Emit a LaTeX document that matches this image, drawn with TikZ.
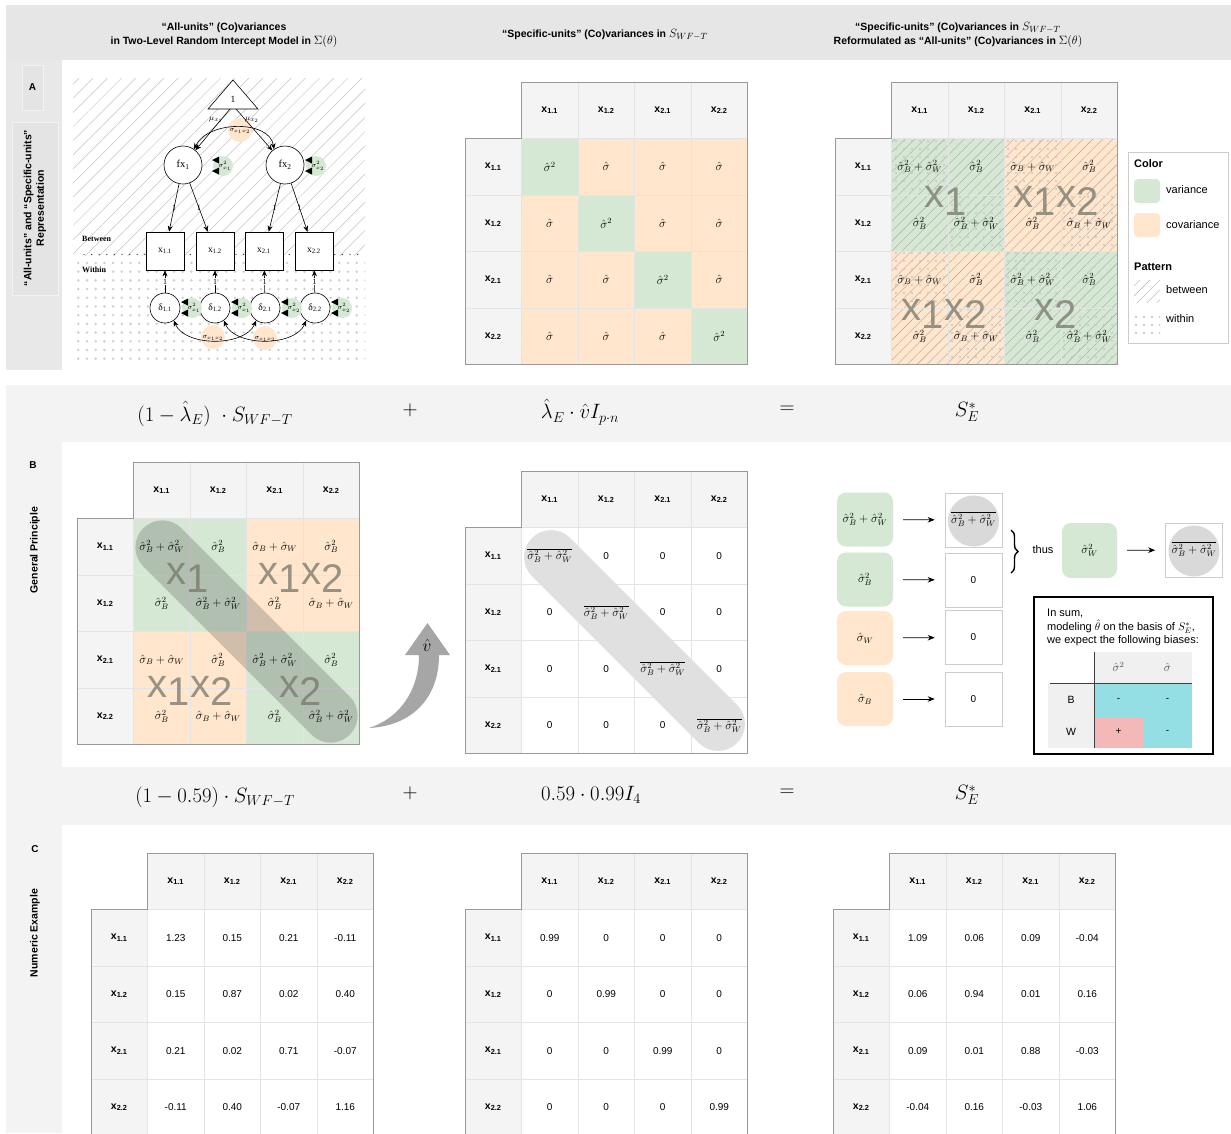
\documentclass[tikz,border=0pt]{standalone}
\usepackage[no-math]{fontspec}
\setmainfont{Liberation Sans}
\newfontfamily\semfont{Liberation Serif}
\usetikzlibrary{patterns.meta,arrows.meta,decorations.pathreplacing}
\definecolor{bandA}{HTML}{E6E6E6}
\definecolor{bandL}{HTML}{F3F3F3}
\definecolor{colA}{HTML}{E8E8E8}
\definecolor{hdrc}{HTML}{F4F4F4}
\definecolor{gridc}{HTML}{E4E4E4}
\definecolor{borderc}{HTML}{999999}
\definecolor{varc}{HTML}{D5E8D4}
\definecolor{covc}{HTML}{FFE6CC}
\definecolor{bigx}{HTML}{77776B}
\definecolor{cyanc}{HTML}{93DFE4}
\definecolor{pinkc}{HTML}{F4B8B8}
\definecolor{blobc}{HTML}{D9D9D9}
\definecolor{capc}{HTML}{E0E0E0}
\definecolor{hatchc}{HTML}{C4C4C4}
\definecolor{dotc}{HTML}{D0D0D0}
\definecolor{boxline}{HTML}{CCCCCC}
\definecolor{tabhdr}{HTML}{F0F0F0}
\definecolor{arrowg}{HTML}{A6A6A6}
\definecolor{subbox}{HTML}{E4E4E4}

\newcommand{\matV}{$\hat\sigma^2_B+\hat\sigma^2_W$}
\newcommand{\matb}{$\hat\sigma^2_B$}
\newcommand{\matc}{$\hat\sigma_B+\hat\sigma_W$}
\newcommand{\ovsum}{$\overline{\hat\sigma^2_B+\hat\sigma^2_W}$}
\newcommand{\bxsub}[1]{\raisebox{-0.22em}{#1}}
\newcommand{\mcell}[5]{\fill[#5] ({#1+#4*56.5},{#2+#3*56.5}) rectangle ++(56.5,56.5);}
\newcommand{\covframe}[3]{%
  \begin{scope}[shift={(#2,#3)}]
    \fill[hdrc] (56.5,0) rectangle (282.5,56.5);
    \fill[hdrc] (0,56.5) rectangle (56.5,282.5);
    \foreach \k in {1,2,3,4}{%
      \draw[gridc,line width=0.5pt] ({\k*56.5},0) -- ({\k*56.5},282.5);
      \draw[gridc,line width=0.5pt] (0,{\k*56.5}) -- (282.5,{\k*56.5});}
    \draw[borderc,line width=0.8pt] (56.5,0) -- (282.5,0) -- (282.5,282.5) -- (0,282.5) -- (0,56.5) -- (56.5,56.5) -- cycle;
    \foreach \lab [count=\k] in {1.1,1.2,2.1,2.2}{%
      \node[hdrlabel] (#1-c\k) at ({(\k+0.5)*56.5},28.25) {x\textsubscript{\lab}};
      \node[hdrlabel] (#1-r\k) at (28.25,{(\k+0.5)*56.5}) {x\textsubscript{\lab}};}
    \foreach \i in {1,2,3,4}{\foreach \j in {1,2,3,4}{%
      \coordinate (#1-\i-\j) at ({(\j+0.5)*56.5},{(\i+0.5)*56.5});}}
  \end{scope}}
\newcommand{\varbub}[4]{%
  \fill[varc] (#2,#3) circle[radius=10];
  \fill ({#2-11},{#3-6}) -- ({#2-4},{#3-9.5}) -- ({#2-4},{#3-2.5}) -- cycle;
  \fill ({#2-11},{#3+5}) -- ({#2-4},{#3+1.5}) -- ({#2-4},{#3+8.5}) -- cycle;
  \node[semsmall] (#1) at ({#2+2},{#3}) {#4};}

\tikzset{
  hdrlabel/.style={font=\fontsize{10.5}{11}\selectfont\bfseries, inner sep=0pt},
  celltxt/.style={font=\fontsize{11.5}{13}\selectfont, inner sep=0pt},
  numtxt/.style={font=\fontsize{10}{11}\selectfont, inner sep=0pt},
  bigxl/.style={font=\fontsize{40}{40}\selectfont, text=bigx, text opacity=0.75, inner sep=0pt},
  coltitle/.style={font=\fontsize{10.5}{14}\selectfont\bfseries, align=center, inner sep=0pt},
  sidelabel/.style={font=\fontsize{10.5}{12.5}\selectfont\bfseries, align=center, rotate=90, inner sep=0pt},
  panelletter/.style={font=\fontsize{10}{11}\selectfont\bfseries, inner sep=0pt},
  eqtxt/.style={font=\fontsize{22}{26}\selectfont, inner sep=0pt},
  semnode/.style={font=\semfont\fontsize{10.5}{11}\selectfont, draw, line width=0.6pt, fill=white, inner sep=0pt},
  semsmall/.style={font=\fontsize{7.5}{8}\selectfont, inner sep=0pt},
  semlab/.style={font=\semfont\fontsize{8}{8}\selectfont, inner sep=0.4pt},
  semarr/.style={-{Stealth[length=6pt,width=5pt]}, line width=0.6pt},
  semdbl/.style={{Stealth[length=6pt,width=5pt]}-{Stealth[length=6pt,width=5pt]}, line width=0.6pt},
  blk/.style={-{Stealth[length=7pt,width=5.5pt]}, line width=0.7pt, shorten <=10pt, shorten >=10pt},
  softbox/.style={rounded corners=9pt, minimum width=56pt, minimum height=54pt, inner sep=0pt, font=\fontsize{11.5}{13}\selectfont},
  whitebox/.style={draw=boxline, line width=0.6pt, fill=white, minimum width=57pt, minimum height=54pt, inner sep=0pt, font=\fontsize{10}{11}\selectfont},
  hatchfill/.style={pattern={Lines[angle=45,distance=7pt,line width=0.4pt]}, pattern color=#1},
  dotfill/.style={pattern={Dots[distance=8pt,radius=1.1pt]}, pattern color=#1},
  captxt/.style={font=\fontsize{11}{12}\selectfont, inner sep=0pt, anchor=west},
}

\begin{document}
\begin{tikzpicture}[x=1pt,y=-1pt]
\useasboundingbox (0,0) rectangle (1231,1133);
% ---------- backgrounds ----------
\fill[white] (0,0) rectangle (1231,1133);
\fill[bandA] (6,5) rectangle (1231,60);
\fill[colA] (6,60) rectangle (62,370);
\fill[bandL] (6,385) rectangle (1231,1133);
\fill[white] (62,442) rectangle (1231,767);
\fill[white] (62,825) rectangle (1231,1133);
\fill[subbox, draw=black!5] (22,65) rectangle (43,110);
\fill[subbox, draw=black!5] (12,122) rectangle (58,295);

% ---------- column titles ----------
\node[coltitle] (t1) at (224,35) {“All-units” (Co)variances\\in Two-Level Random Intercept Model in {\fontsize{13}{13}\selectfont$\Sigma(\theta)$}};
\node[coltitle] (t2) at (605,35) {“Specific-units” (Co)variances in {\fontsize{13}{13}\selectfont$S_{WF-T}$}};
\node[coltitle] (t3) at (958,35) {“Specific-units” (Co)variances in {\fontsize{13}{13}\selectfont$S_{WF-T}$}\\Reformulated as “All-units” (Co)variances in {\fontsize{13}{13}\selectfont$\Sigma(\theta)$}};

% ---------- side labels ----------
\node[panelletter] (pA) at (32.5,87) {A};
\node[sidelabel] (sA) at (35,208) {“All-units” and “Specific-units”\\Representation};
\node[panelletter] (pB) at (33,465) {B};
\node[sidelabel] (sB) at (35,550) {General Principle};
\node[panelletter] (pC) at (35,849) {C};
\node[sidelabel] (sC) at (35,933) {Numeric Example};

% ---------- A: SEM ----------
\fill[pattern={Lines[angle=45,distance=10pt,line width=0.5pt]}, pattern color=hatchc] (73,78) rectangle (365,255);
\fill[pattern={Dots[distance=8.7pt,radius=1.4pt]}, pattern color=dotc] (73,259) rectangle (365,364);
\draw[black!80, line width=1.4pt, dash pattern=on 0pt off 7.6pt, line cap=round] (84,254.5) -- (365,254.5);
\node[font=\semfont\bfseries\fontsize{8}{8}\selectfont, anchor=west, inner sep=0pt] (betw) at (82,239) {Between};
\node[font=\semfont\bfseries\fontsize{8}{8}\selectfont, anchor=west, inner sep=0pt] (with) at (82,270) {Within};
\draw[line width=0.6pt, fill=white] (233,80) -- (258,109) -- (208,109) -- cycle;
\node[font=\semfont\fontsize{9.5}{10}\selectfont, inner sep=0pt] (one) at (233,99) {1};
\coordinate (triL) at (230,109);
\coordinate (triR) at (236,109);
\fill[covc] (240,130) circle[radius=12];
\node[semsmall] (cfx) at (240,131) {$\sigma_{x_1x_2}$};
\node[semnode, circle, minimum size=38pt] (fx1) at (183,165) {fx\textsubscript{1}};
\node[semnode, circle, minimum size=38pt] (fx2) at (285,165) {fx\textsubscript{2}};
\varbub{vfx1}{223}{166}{$\sigma^2_{x_1}$}
\varbub{vfx2}{316}{166}{$\sigma^2_{x_2}$}
\node[font=\fontsize{8.5}{9}\selectfont, inner sep=0pt] (mu1) at (216,120) {$\mu_{x_1}$};
\node[font=\fontsize{8.5}{9}\selectfont, inner sep=0pt] (mu2) at (252,120) {$\mu_{x_2}$};
\draw[semarr] (triL) -- (fx1);
\draw[semarr] (triR) -- (fx2);
\draw[semdbl] (fx1.55) .. controls (208,120) and (270,120) .. (fx2.125);
\foreach \n/\lab/\xx in {x11/1.1/165, x12/1.2/215, x21/2.1/264, x22/2.2/314}{%
  \node[semnode, minimum size=38pt, font=\semfont\fontsize{9.5}{10}\selectfont] (\n) at (\xx,251) {x\textsubscript{\lab}};}
\foreach \n/\lab/\xx in {d11/1.1/165, d12/1.2/215, d21/2.1/265, d22/2.2/315}{%
  \node[semnode, circle, minimum size=30pt, font=\semfont\fontsize{9.5}{10}\selectfont] (\n) at (\xx,308) {δ\textsubscript{\lab}};}
\draw[semarr] (fx1) -- node[semlab] (l1) {1} (x11);
\draw[semarr] (fx1) -- node[semlab] (l2) {1} (x12);
\draw[semarr] (fx2) -- node[semlab] (l3) {1} (x21);
\draw[semarr] (fx2) -- node[semlab] (l4) {1} (x22);
\draw[semarr] (d11) -- node[semlab, fill=white] (l5) {1} (x11);
\draw[semarr] (d12) -- node[semlab, fill=white] (l6) {1} (x12);
\draw[semarr] (d21) -- node[semlab, fill=white] (l7) {1} (x21);
\draw[semarr] (d22) -- node[semlab, fill=white] (l8) {1} (x22);
\varbub{vd11}{192}{308}{$\sigma^2_{x_1}$}
\varbub{vd12}{242}{308}{$\sigma^2_{x_1}$}
\varbub{vd21}{292}{308}{$\sigma^2_{x_2}$}
\varbub{vd22}{342}{308}{$\sigma^2_{x_2}$}
\fill[covc] (213,337) circle[radius=12];
\fill[covc] (265,338) circle[radius=12];
\node[semsmall] (cd1) at (213,338) {$\sigma_{x_1x_2}$};
\node[semsmall] (cd2) at (265,339) {$\sigma_{x_1x_2}$};
\draw[semdbl] (d11.-55) .. controls (185,347) and (245,347) .. (d21.-125);
\draw[semdbl] (d12.-55) .. controls (235,347) and (295,347) .. (d22.-125);

% ---------- A: middle matrix ----------
\foreach \i in {1,2,3,4}{\foreach \j in {1,2,3,4}{%
  \ifnum\i=\j \mcell{465}{82}{\i}{\j}{varc}\else\mcell{465}{82}{\i}{\j}{covc}\fi}}
\covframe{AM}{465}{82}
\foreach \i in {1,2,3,4}{\foreach \j in {1,2,3,4}{%
  \ifnum\i=\j \node[celltxt] (AM-t\i\j) at (AM-\i-\j) {$\hat\sigma^2$};%
  \else \node[celltxt] (AM-t\i\j) at (AM-\i-\j) {$\hat\sigma$};\fi}}

% ---------- A: right matrix ----------
\foreach \i/\row in {1/{V,b,c,b},2/{b,V,b,c},3/{c,b,V,b},4/{b,c,b,V}}{%
  \foreach \k [count=\j] in \row {%
    \pgfmathtruncatemacro{\blk}{abs(floor((\i-1)/2)-floor((\j-1)/2))}%
    \ifnum\blk=0 \mcell{835}{82}{\i}{\j}{varc}\else\mcell{835}{82}{\i}{\j}{covc}\fi
    \mcell{835}{82}{\i}{\j}{hatchfill=black!35}
    \if b\k\else\mcell{835}{82}{\i}{\j}{dotfill=black!22}\fi
  }}
\covframe{AR}{835}{82}
\foreach \i/\row in {1/{V,b,c,b},2/{b,V,b,c},3/{c,b,V,b},4/{b,c,b,V}}{%
  \foreach \k [count=\j] in \row {%
    \node[celltxt] (AR-t\i\j) at (AR-\i-\j) {\csname mat\k\endcsname};}}
\node[bigxl] (ARx1) at (946,201) {x\bxsub{1}};
\node[bigxl] (ARx12) at (1056,201) {x\bxsub{1}x\bxsub{2}};
\node[bigxl] (ARx21) at (944,314) {x\bxsub{1}x\bxsub{2}};
\node[bigxl] (ARx2) at (1056,314) {x\bxsub{2}};

% legend
\node[draw=boxline, line width=0.6pt, minimum width=100pt, minimum height=191pt, inner sep=0pt] (legend) at (1178,247.5) {};
\node[captxt, font=\fontsize{11}{12}\selectfont\bfseries] (lgc) at (1134,164) {Color};
\node[fill=varc, rounded corners=4pt, minimum width=26pt, minimum height=24pt, inner sep=0pt] (lgv) at (1147,191) {};
\node[captxt] (lgvt) at (1166,190) {variance};
\node[fill=covc, rounded corners=4pt, minimum width=26pt, minimum height=24pt, inner sep=0pt] (lgo) at (1147,225) {};
\node[captxt] (lgot) at (1166,225) {covariance};
\node[captxt, font=\fontsize{11}{12}\selectfont\bfseries] (lgp) at (1134,267) {Pattern};
\node[pattern={Lines[angle=45,distance=7pt,line width=0.4pt]}, pattern color=black!30, minimum width=26pt, minimum height=22pt, inner sep=0pt] (lgh) at (1147,291) {};
\node[captxt] (lght) at (1166,290) {between};
\node[pattern={Dots[distance=8pt,radius=1.1pt]}, pattern color=black!25, minimum width=26pt, minimum height=26pt, inner sep=0pt] (lgd) at (1147,323) {};
\node[captxt] (lgdt) at (1166,319) {within};

% ---------- equation band 1 ----------
\node[eqtxt] (eq1a) at (215,414) {$(1-\hat\lambda_E)\ \cdot S_{WF-T}$};
\node[eqtxt] (eq1p) at (410,410) {$+$};
\node[eqtxt] (eq1b) at (580,412) {$\hat\lambda_E\cdot\hat{v}I_{p\cdot n}$};
\node[eqtxt] (eq1e) at (787,410) {$=$};
\node[eqtxt] (eq1c) at (967,412) {$S^*_E$};

% ---------- B: left matrix ----------
\foreach \i in {1,2,3,4}{\foreach \j in {1,2,3,4}{%
  \pgfmathtruncatemacro{\blk}{abs(floor((\i-1)/2)-floor((\j-1)/2))}%
  \ifnum\blk=0 \mcell{77}{462}{\i}{\j}{varc}\else\mcell{77}{462}{\i}{\j}{covc}\fi}}
\covframe{BL}{77}{462}
\node[rounded corners=27pt, fill=black!70, fill opacity=0.26, minimum width=292pt, minimum height=54pt, inner sep=0pt, rotate=-45] (BLcap) at (246.5,631.5) {};
\foreach \i/\row in {1/{V,b,c,b},2/{b,V,b,c},3/{c,b,V,b},4/{b,c,b,V}}{%
  \foreach \k [count=\j] in \row {%
    \node[celltxt] (BL-t\i\j) at (BL-\i-\j) {\csname mat\k\endcsname};}}
\node[bigxl] (BLx1) at (188,578) {x\bxsub{1}};
\node[bigxl] (BLx12) at (301,578) {x\bxsub{1}x\bxsub{2}};
\node[bigxl] (BLx21) at (190,691) {x\bxsub{1}x\bxsub{2}};
\node[bigxl] (BLx2) at (301,691) {x\bxsub{2}};

% curved arrow v-hat
\fill[arrowg] (369,728) .. controls (400,718) and (419,690) .. (419,655) -- (405,655) -- (427.5,623) -- (450,655) -- (439,655) .. controls (439,700) and (410,726) .. (369,728) -- cycle;
\node[font=\fontsize{16}{16}\selectfont, inner sep=0pt] (vhat) at (427,645) {$\hat v$};

% ---------- B: middle matrix ----------
\covframe{BM}{465}{471}
\node[rounded corners=27pt, fill=capc, minimum width=290pt, minimum height=54pt, inner sep=0pt, rotate=-45] (BMcap) at (634.5,640.5) {};
\foreach \i in {1,2,3,4}{\foreach \j in {1,2,3,4}{%
  \ifnum\i=\j \node[celltxt] (BM-t\i\j) at (BM-\i-\j) {\ovsum};%
  \else \node[numtxt] (BM-t\i\j) at (BM-\i-\j) {0};\fi}}

% ---------- B: right side ----------
\node[softbox, fill=varc] (lb1) at (865,519.5) {\matV};
\node[softbox, fill=varc] (lb2) at (865,579.5) {\matb};
\node[softbox, fill=covc] (lb3) at (865,638) {$\hat\sigma_W$};
\node[softbox, fill=covc] (lb4) at (865,699) {$\hat\sigma_B$};
\node[whitebox] (rb1) at (973.5,520) {};
\fill[blobc] (973.5,521) circle[radius=25.5];
\node[celltxt] (rb1t) at (973.5,519) {\ovsum};
\node[whitebox] (rb2) at (973.5,580) {0};
\node[whitebox] (rb3) at (973.5,637.5) {0};
\node[whitebox] (rb4) at (973.5,699) {0};
\draw[blk] (lb1) -- (rb1);
\draw[blk] (lb2) -- (rb2);
\draw[blk] (lb3) -- (rb3);
\draw[blk] (lb4) -- (rb4);
\draw[line width=1.4pt, decorate, decoration={brace, amplitude=7pt}] (1011,530) -- (1011,573);
\node[font=\fontsize{11}{12}\selectfont, inner sep=0pt] (thus) at (1043,550) {thus};
\node[softbox, fill=varc, minimum width=55pt, minimum height=55pt] (gw) at (1089.5,550.5) {$\hat\sigma^2_W$};
\node[whitebox] (rb5) at (1194,550) {};
\fill[blobc] (1194,551) circle[radius=25.5];
\node[celltxt] (rb5t) at (1194,549) {\ovsum};
\draw[blk] (gw) -- (rb5);

% summary box
\node[draw, line width=1.6pt, minimum width=179pt, minimum height=157pt, inner sep=0pt] (sumbox) at (1123.5,675.5) {};
\node[captxt] (sum1) at (1047,613) {In sum,};
\node[captxt] (sum2) at (1047,627) {modeling $\hat\theta$ on the basis of $S^*_E$,};
\node[captxt] (sum3) at (1047,641) {we expect the following biases:};
\fill[tabhdr] (1094,652) rectangle (1192,683);
\fill[tabhdr] (1048,683) rectangle (1094,748);
\fill[cyanc] (1094,683) rectangle (1192,717);
\fill[pinkc] (1094,717) rectangle (1143,748);
\fill[cyanc] (1143,717) rectangle (1192,748);
\draw[line width=0.8pt, black!75] (1050,683) -- (1192,683);
\draw[line width=0.8pt, black!75] (1094,652) -- (1094,748);
\node[celltxt, text=black!70] (th1) at (1118.5,667) {$\hat\sigma^2$};
\node[celltxt, text=black!70] (th2) at (1167.5,667) {$\hat\sigma$};
\node[numtxt, font=\fontsize{10.5}{11}\selectfont] (tB) at (1071,700) {B};
\node[numtxt, font=\fontsize{10.5}{11}\selectfont] (tW) at (1071,732) {W};
\node[numtxt] (tB1) at (1118.5,700) {-};
\node[numtxt] (tB2) at (1167.5,700) {-};
\node[numtxt] (tW1) at (1118.5,732) {+};
\node[numtxt] (tW2) at (1167.5,732) {-};

% ---------- equation band 2 ----------
\node[eqtxt] (eq2a) at (215,797) {$(1-0.59)\cdot S_{WF-T}$};
\node[eqtxt] (eq2p) at (410,793) {$+$};
\node[eqtxt] (eq2b) at (591,795) {$0.59\cdot 0.99I_4$};
\node[eqtxt] (eq2e) at (787,793) {$=$};
\node[eqtxt] (eq2c) at (967,795) {$S^*_E$};

% ---------- C: numeric matrices ----------
\covframe{CL}{91}{853}
\foreach \i/\row in {1/{1.23,0.15,0.21,-0.11},2/{0.15,0.87,0.02,0.40},3/{0.21,0.02,0.71,-0.07},4/{-0.11,0.40,-0.07,1.16}}{%
  \foreach \v [count=\j] in \row {%
    \node[numtxt] (CL-t\i\j) at (CL-\i-\j) {\v};}}
\covframe{CM}{465}{853}
\foreach \i in {1,2,3,4}{\foreach \j in {1,2,3,4}{%
  \ifnum\i=\j \node[numtxt] (CM-t\i\j) at (CM-\i-\j) {0.99};%
  \else \node[numtxt] (CM-t\i\j) at (CM-\i-\j) {0};\fi}}
\covframe{CR}{833}{853}
\foreach \i/\row in {1/{1.09,0.06,0.09,-0.04},2/{0.06,0.94,0.01,0.16},3/{0.09,0.01,0.88,-0.03},4/{-0.04,0.16,-0.03,1.06}}{%
  \foreach \v [count=\j] in \row {%
    \node[numtxt] (CR-t\i\j) at (CR-\i-\j) {\v};}}
\end{tikzpicture}
\end{document}
